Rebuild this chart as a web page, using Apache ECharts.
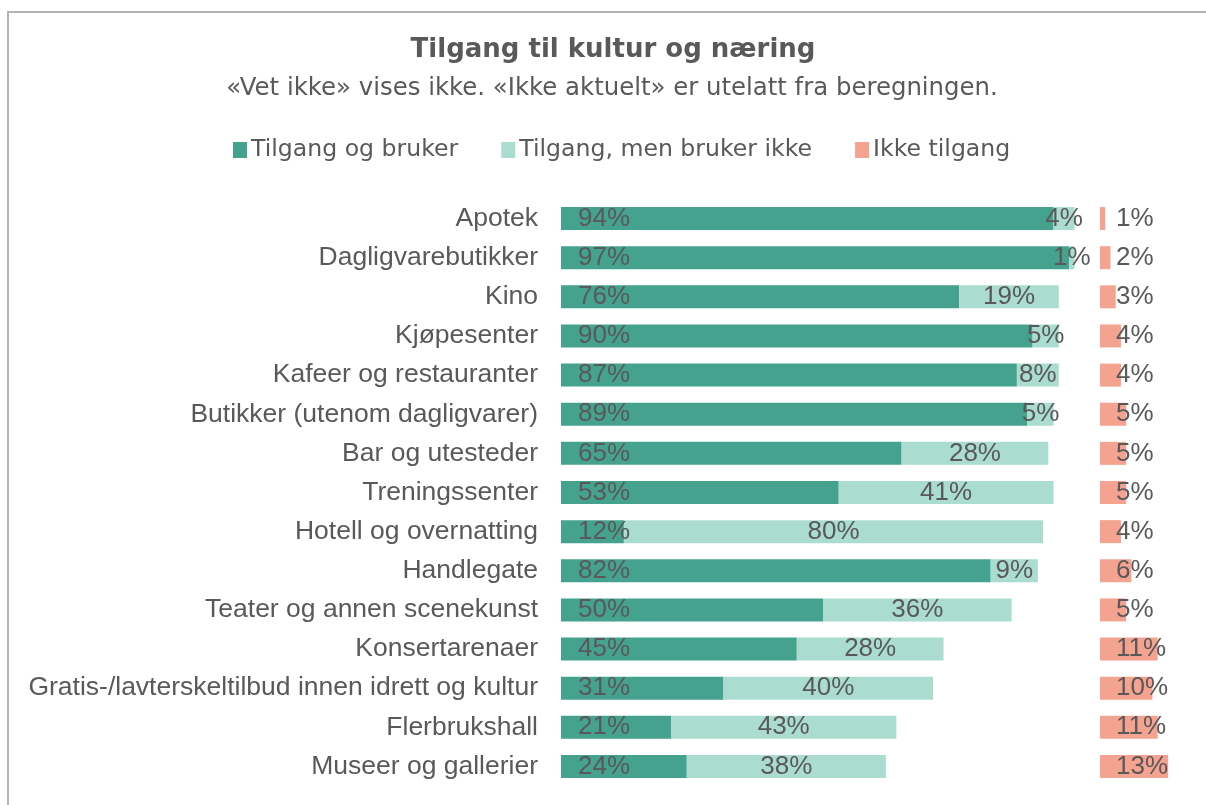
<!DOCTYPE html>
<html>
<head>
<meta charset="utf-8">
<script src="https://cdn.jsdelivr.net/npm/echarts@6/dist/echarts.min.js"></script>
<style>
  html, body { margin: 0; padding: 0; background: #fff; }
  #main { width: 1206px; height: 805px; }
</style>
</head>
<body>
<div id="main"></div>
<script>
// categories, top to bottom
var categories = [
  'Apotek',
  'Dagligvarebutikker',
  'Kino',
  'Kjøpesenter',
  'Kafeer og restauranter',
  'Butikker (utenom dagligvarer)',
  'Bar og utesteder',
  'Treningssenter',
  'Hotell og overnatting',
  'Handlegate',
  'Teater og annen scenekunst',
  'Konsertarenaer',
  'Gratis-/lavterskeltilbud innen idrett og kultur',
  'Flerbrukshall',
  'Museer og gallerier'
];
var brukerData = [94, 97, 76, 90, 87, 89, 65, 53, 12, 82, 50, 45, 31, 21, 24];
var ikkeBrukerData = [4, 1, 19, 5, 8, 5, 28, 41, 80, 9, 36, 28, 40, 43, 38];
var ikkeTilgangData = [1, 2, 3, 4, 4, 5, 5, 5, 4, 6, 5, 11, 10, 11, 13];

var seriesNames = ['Tilgang og bruker', 'Tilgang, men bruker ikke', 'Ikke tilgang'];

var textColor = '#595959';
var labelFont = '"Liberation Sans", Arial, sans-serif';
var headFont = '"DejaVu Sans", sans-serif';

var myChart = echarts.init(document.getElementById('main'));

var pctLabel = function (pos, dist) {
  return {
    show: true,
    position: pos,
    distance: dist,
    formatter: '{c}%',
    color: textColor,
    fontSize: 26,
    fontFamily: labelFont
  };
};

var option = {
  backgroundColor: '#fff',
  animation: false,
  graphic: [{
    type: 'rect',
    shape: { x: 8, y: 12, width: 1220, height: 820 },
    style: { fill: 'none', stroke: '#b4b4b4', lineWidth: 2 },
    silent: true
  }, {
    type: 'text',
    x: 613,
    y: 50,
    style: {
      text: 'Tilgang til kultur og næring',
      align: 'center',
      verticalAlign: 'middle',
      fill: textColor,
      font: 'bold 26px ' + headFont
    }
  }, {
    type: 'text',
    x: 612,
    y: 89,
    style: {
      text: '«Vet ikke» vises ikke. «Ikke aktuelt» er utelatt fra beregningen.',
      align: 'center',
      verticalAlign: 'middle',
      fill: textColor,
      font: '24.4px ' + headFont
    }
  }],
  legend: {
    left: 228,
    top: 133,
    itemWidth: 14,
    itemHeight: 16,
    itemGap: 43,
    icon: 'rect',
    data: seriesNames,
    textStyle: {
      color: textColor,
      fontSize: 23.6,
      fontFamily: headFont,
      padding: [0, 0, 0, -1]
    }
  },
  grid: [{
    left: 561, top: 199, width: 524, height: 587
  }, {
    left: 1100, top: 199, width: 104.8, height: 587
  }],
  xAxis: [{
    gridIndex: 0, type: 'value', min: 0, max: 100, show: false
  }, {
    gridIndex: 1, type: 'value', min: 0, max: 20, show: false
  }],
  yAxis: [{
    gridIndex: 0,
    type: 'category',
    inverse: true,
    data: categories,
    axisLine: { show: false },
    axisTick: { show: false },
    axisLabel: {
      margin: 23,
      color: textColor,
      fontSize: 26.5,
      fontFamily: labelFont
    }
  }, {
    gridIndex: 1,
    type: 'category',
    inverse: true,
    data: categories,
    show: false
  }],
  series: [{
    name: seriesNames[0],
    type: 'bar',
    stack: 'tilgang',
    xAxisIndex: 0,
    yAxisIndex: 0,
    barWidth: 23,
    itemStyle: { color: '#45a28e' },
    label: pctLabel('insideLeft', 17),
    data: brukerData
  }, {
    name: seriesNames[1],
    type: 'bar',
    stack: 'tilgang',
    xAxisIndex: 0,
    yAxisIndex: 0,
    barWidth: 23,
    itemStyle: { color: '#aadcd0' },
    label: pctLabel('inside', 5),
    data: ikkeBrukerData
  }, {
    name: seriesNames[2],
    type: 'bar',
    xAxisIndex: 1,
    yAxisIndex: 1,
    barWidth: 23,
    itemStyle: { color: '#f4a390' },
    label: pctLabel('insideLeft', 16),
    data: ikkeTilgangData
  }]
};

myChart.setOption(option);
</script>
</body>
</html>
